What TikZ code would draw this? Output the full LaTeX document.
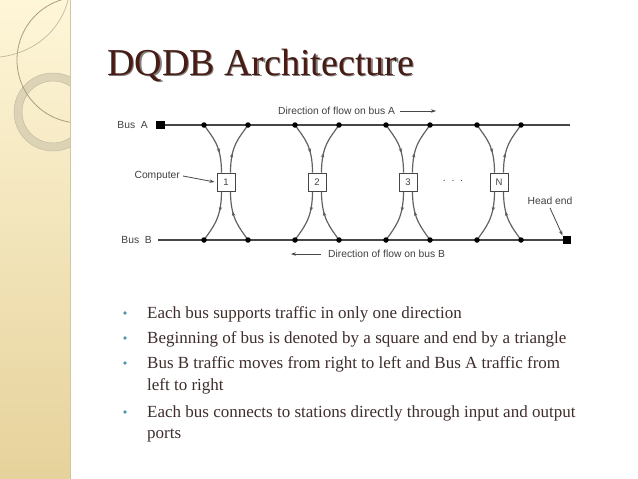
\documentclass[tikz,border=0pt]{standalone}
\usepackage{fontspec}
\setmainfont{Liberation Serif}
\newfontfamily\diagfont{Liberation Sans}
\usetikzlibrary{arrows.meta,decorations.markings}

\pgfdeclarelayer{bg}
\pgfsetlayers{bg,main}

\definecolor{stripTop}{RGB}{254,246,216}
\definecolor{stripMid}{RGB}{251,233,180}
\definecolor{stripBot}{RGB}{230,210,155}
\definecolor{ringCol}{RGB}{214,204,176}
\definecolor{arcCol}{RGB}{170,158,128}
\definecolor{titleCol}{RGB}{70,28,20}
\definecolor{bodyCol}{RGB}{62,46,44}
\definecolor{bulletCol}{RGB}{84,150,166}
\definecolor{lineCol}{RGB}{70,70,70}

\tikzset{
    bus/.style={line width=1.1pt, lineCol},
    tap/.style={line width=1.2pt, lineCol!85, postaction=decorate},
    tapin/.style={decoration={markings, mark=at position 0.62 with {\arrow{Stealth[length=4.5pt,width=3.5pt]}}}},
    tapout/.style={decoration={markings, mark=at position 0.38 with {\arrow{Stealth[length=4.5pt,width=3.5pt]}}}},
    dot/.style={circle, fill=black, inner sep=0pt, minimum size=5.5pt},
    endsq/.style={rectangle, fill=black, inner sep=0pt, minimum size=8.5pt},
    station/.style={draw=lineCol, line width=0.9pt, fill=white, inner sep=0pt,
        minimum size=18pt, font=\diagfont\fontsize{9.5}{11}\selectfont, text=black!75},
    lbl/.style={font=\diagfont\fontsize{10.3}{12}\selectfont, text=black!75, inner sep=0pt},
    pointer/.style={-{Stealth[length=5pt,width=3.4pt]}, line width=0.8pt, lineCol},
    item/.style={font=\fontsize{17}{22}\selectfont, text=bodyCol, inner sep=0pt, anchor=base west},
    bul/.style={circle, fill=bulletCol, inner sep=0pt, minimum size=3.6pt},
}

\begin{document}
\begin{tikzpicture}[x=1pt, y=-1pt]
    % размеры слайда
    \def\W{638}     % ширина
    \def\H{479}     % высота
    \def\S{70}      % ширина полосы слева
    \useasboundingbox (0,0) rectangle (\W,\H);
    \begin{pgfonlayer}{bg}
        \fill[white] (0,0) rectangle (\W,\H);
    \end{pgfonlayer}

    % полоса слева с кругами
    \begin{scope}
        \clip (0,0) rectangle (\S,\H);
        \shade[top color=stripTop, middle color=stripMid, bottom color=stripBot] (0,0) rectangle (\S,\H);
        \draw[ringCol, line width=8pt, opacity=0.8] (53,112) circle (35);
        \draw[arcCol!70, line width=0.5pt] (53,112) circle (39);
        \draw[arcCol!70, line width=0.5pt] (53,112) circle (31);
        \draw[arcCol, line width=0.8pt] (80,60) circle (63);
        \draw[arcCol!80, line width=0.6pt] (0,57) .. controls (40,52) and (62,25) .. (68,0);
    \end{scope}
    \draw[arcCol!60, line width=0.8pt] (\S,0) -- (\S,\H);

    % заголовок
    \node[anchor=base west, inner sep=0pt, font=\fontsize{38}{40}\selectfont, text=black!50]
        (titleshadow) at (108.4,76.4) {DQDB Architecture};
    \node[anchor=base west, inner sep=0pt, font=\fontsize{38}{40}\selectfont, text=titleCol]
        (title) at (107,75) {DQDB Architecture};

    % шины
    \node[endsq] (sqA) at (160.5,125) {};
    \node[endsq] (sqB) at (567,240) {};
    \coordinate (busAend) at (570,125);
    \coordinate (busBstart) at (158,240);
    \begin{pgfonlayer}{bg}
        \draw[bus] (sqA.center) -- (busAend);
        \draw[bus] (busBstart) -- (sqB.center);
    \end{pgfonlayer}
    \node[lbl, anchor=east] (busA) at (148,125) {Bus\ \ A};
    \node[lbl, anchor=east] (busB) at (152,240) {Bus\ \ B};

    % станции и отводы
    \foreach \x/\t [count=\i] in {226/1, 317/2, 408/3, 499/N} {
        \node[station] (s\i) at (\x,182) {\t};
        \node[dot] (al\i) at ({\x-22},125) {};
        \node[dot] (ar\i) at ({\x+22},125) {};
        \node[dot] (bl\i) at ({\x-22},240) {};
        \node[dot] (br\i) at ({\x+22},240) {};
        \begin{pgfonlayer}{bg}
            \draw[tap, tapin] (al\i.center) .. controls +(9,13) and +(0,-27) .. ([xshift=-4.5pt]s\i.north);
            \draw[tap, tapout] ([xshift=4.5pt]s\i.north) .. controls +(0,-27) and +(-9,13) .. (ar\i.center);
            \draw[tap, tapout] ([xshift=-4.5pt]s\i.south) .. controls +(0,27) and +(9,-13) .. (bl\i.center);
            \draw[tap, tapin] (br\i.center) .. controls +(-9,-13) and +(0,27) .. ([xshift=4.5pt]s\i.south);
        \end{pgfonlayer}
    }
    \node[lbl] (gap) at (453,181) {.\ \ .\ \ .};

    % подписи
    \node[lbl, anchor=west] (dirA) at (278,111) {Direction of flow on bus A};
    \coordinate (dirAend) at (436,111);
    \draw[pointer] ([xshift=5pt]dirA.east) -- (dirAend);
    \node[lbl, anchor=west] (dirB) at (328,254) {Direction of flow on bus B};
    \coordinate (dirBend) at (291,254);
    \draw[pointer] ([xshift=-7pt]dirB.west) -- (dirBend);
    \node[lbl, anchor=east] (comp) at (180,176) {Computer};
    \draw[pointer] ([xshift=3pt]comp.east) -- ([xshift=-2pt]s1.west);
    \node[lbl] (head) at (550,201) {Head end};
    \draw[pointer] ([yshift=-3pt]head.south) -- (sqB.north west);

    % пункты списка
    \node[bul] (m1) at (125,313) {};
    \node[bul] (m2) at (125,338) {};
    \node[bul] (m3) at (125,363) {};
    \node[bul] (m4) at (125,412) {};
    \node[item] (b1) at (147,318) {Each bus supports traffic in only one direction};
    \node[item] (b2) at (147,343) {Beginning of bus is denoted by a square and end by a triangle};
    \node[item] (b3) at (147,368) {Bus B traffic moves from right to left and Bus A traffic from};
    \node[item] (b3b) at (147,390) {left to right};
    \node[item] (b4) at (147,417) {Each bus connects to stations directly through input and output};
    \node[item] (b4b) at (147,438) {ports};
\end{tikzpicture}
\end{document}
